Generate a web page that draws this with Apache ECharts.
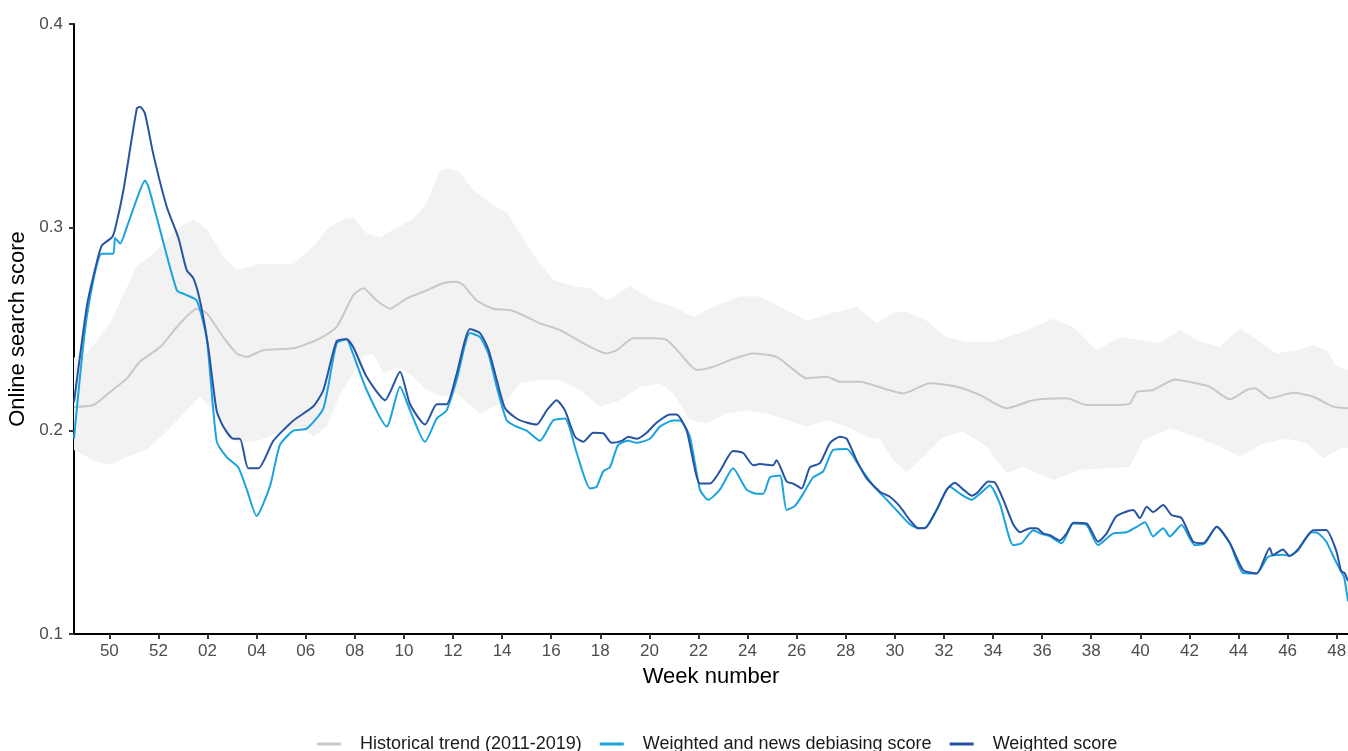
<!DOCTYPE html>
<html>
<head>
<meta charset="utf-8">
<script src="https://cdn.jsdelivr.net/npm/echarts@6/dist/echarts.min.js"></script>
<style>
  html, body { margin: 0; padding: 0; background: #fff; }
  #chart { width: 1348px; height: 751px; }
</style>
</head>
<body>
<div id="chart"></div>
<script>
// x = weeks counted from week 50 of 2019
var weekTicks = [0, 2, 4, 6, 8, 10, 12, 14, 16, 18, 20, 22, 24, 26, 28, 30, 32, 34, 36, 38, 40, 42, 44, 46, 48, 50]
var weekLabels = ['50', '52', '02', '04', '06', '08', '10', '12', '14', '16', '18', '20', '22', '24', '26', '28', '30', '32', '34', '36', '38', '40', '42', '44', '46', '48']

var historical = [
  [-1.44, 0.2116], [-0.65, 0.2126], [0.03, 0.219], [0.71, 0.2257], [1.25, 0.234], [2.06, 0.241],
  [2.75, 0.251], [3.56, 0.260], [3.97, 0.2577], [4.64, 0.246], [5.19, 0.238], [5.60, 0.2363],
  [6.27, 0.2396], [7.50, 0.2405], [8.58, 0.2454], [9.26, 0.251], [9.94, 0.2667], [10.35, 0.270],
  [10.89, 0.264], [11.43, 0.260], [12.11, 0.265], [12.93, 0.269], [13.60, 0.2725], [14.15, 0.2732],
  [14.42, 0.2716], [14.97, 0.264], [15.64, 0.260], [16.32, 0.2593], [17.00, 0.256], [17.54, 0.2528],
  [18.36, 0.2495], [19.31, 0.243], [20.26, 0.238], [20.67, 0.2396], [21.34, 0.2454], [22.16, 0.2454],
  [22.70, 0.2446], [23.25, 0.238], [23.93, 0.2298], [24.60, 0.2314], [25.28, 0.2347], [26.23, 0.238],
  [27.18, 0.2363], [27.73, 0.2314], [28.41, 0.2257], [29.22, 0.2265], [29.76, 0.2241], [30.58, 0.2241],
  [31.53, 0.2208], [32.34, 0.2183], [33.43, 0.2233], [34.52, 0.2216], [35.47, 0.2175], [36.55, 0.211],
  [37.64, 0.215], [39.00, 0.2159], [39.81, 0.2126], [40.90, 0.2126], [41.58, 0.2134], [41.85, 0.219],
  [42.52, 0.220], [43.41, 0.2252], [44.15, 0.2236], [44.83, 0.2216], [45.65, 0.2154], [46.33, 0.220],
  [46.67, 0.2208], [47.28, 0.2159], [48.23, 0.2186], [49.04, 0.2167], [49.86, 0.2118], [50.46, 0.211]
]

var bandUpper = [
  [-1.44, 0.236], [-0.92, 0.238], [0.03, 0.253], [1.12, 0.281], [1.79, 0.287], [2.75, 0.299],
  [3.42, 0.304], [3.97, 0.299], [4.64, 0.2855], [5.19, 0.279], [6.14, 0.282], [6.82, 0.282],
  [7.50, 0.282], [8.31, 0.2905], [8.86, 0.299], [9.53, 0.304], [9.94, 0.305], [10.48, 0.297],
  [11.03, 0.295], [11.57, 0.299], [12.38, 0.304], [12.93, 0.312], [13.47, 0.328], [13.88, 0.329],
  [14.28, 0.327], [14.83, 0.318], [15.51, 0.312], [16.19, 0.307], [16.73, 0.297], [17.41, 0.284],
  [18.09, 0.274], [18.90, 0.271], [19.58, 0.270], [20.26, 0.264], [21.21, 0.271], [22.16, 0.264],
  [22.97, 0.261], [23.79, 0.256], [24.60, 0.261], [25.69, 0.266], [26.50, 0.266], [27.32, 0.261],
  [28.41, 0.254], [29.49, 0.258], [30.44, 0.261], [31.26, 0.253], [31.94, 0.258], [32.48, 0.2585],
  [33.29, 0.254], [34.11, 0.246], [34.92, 0.2437], [36.01, 0.2437], [37.10, 0.248], [38.45, 0.255],
  [39.27, 0.251], [40.22, 0.2396], [41.17, 0.246], [41.98, 0.2446], [42.80, 0.243], [43.61, 0.2495],
  [44.43, 0.2437], [45.24, 0.2413], [46.06, 0.2503], [46.87, 0.2437], [47.55, 0.238], [48.37, 0.2396],
  [49.04, 0.242], [49.59, 0.2396], [50.00, 0.2314], [50.46, 0.230]
]

var bandLower = [
  [-1.44, 0.1905], [-0.65, 0.1855], [0.03, 0.1831], [0.71, 0.1872], [1.52, 0.1905], [2.34, 0.200],
  [3.15, 0.210], [3.69, 0.2167], [4.24, 0.210], [4.78, 0.197], [5.32, 0.1938], [6.14, 0.1954],
  [6.82, 0.1987], [7.77, 0.2019], [8.31, 0.197], [8.86, 0.2019], [9.40, 0.2183], [9.94, 0.2282],
  [10.35, 0.2363], [10.75, 0.238], [11.16, 0.2282], [11.84, 0.2314], [12.38, 0.2265], [12.93, 0.220],
  [13.60, 0.2167], [14.15, 0.2183], [15.10, 0.2085], [16.19, 0.215], [16.73, 0.2233], [17.54, 0.2249],
  [18.36, 0.2249], [19.17, 0.220], [19.99, 0.2118], [20.80, 0.215], [21.62, 0.2216], [22.43, 0.2233],
  [22.97, 0.2183], [23.65, 0.2052], [24.33, 0.2036], [25.15, 0.2085], [25.96, 0.2101], [26.78, 0.2085],
  [27.59, 0.2052], [28.41, 0.2019], [29.22, 0.2052], [30.04, 0.2019], [30.85, 0.197], [31.39, 0.196],
  [31.94, 0.1855], [32.48, 0.1798], [33.15, 0.1872], [33.97, 0.197], [34.79, 0.1995], [35.74, 0.1921],
  [36.55, 0.179], [37.23, 0.1822], [38.45, 0.1757], [39.54, 0.1806], [40.63, 0.1815], [41.58, 0.1822],
  [42.12, 0.1954], [43.20, 0.2011], [44.29, 0.197], [45.24, 0.1921], [46.06, 0.1872], [47.00, 0.1938],
  [47.96, 0.1962], [48.77, 0.1938], [49.45, 0.1864], [50.13, 0.1913], [50.46, 0.1913]
]

var debiased = [
  [-1.44, 0.196], [-0.92, 0.256], [-0.31, 0.287], [0.16, 0.287], [0.23, 0.2947], [0.44, 0.292],
  [0.71, 0.300], [1.18, 0.316], [1.45, 0.323], [1.59, 0.320], [2.06, 0.299], [2.75, 0.269],
  [3.08, 0.267], [3.56, 0.264], [3.97, 0.245], [4.37, 0.195], [4.78, 0.187], [5.25, 0.182],
  [5.60, 0.171], [6.00, 0.158], [6.55, 0.173], [6.95, 0.193], [7.50, 0.200], [8.04, 0.201],
  [8.72, 0.211], [9.26, 0.243], [9.67, 0.245], [9.87, 0.2396], [10.48, 0.220], [11.30, 0.202],
  [11.84, 0.2216], [12.25, 0.210], [12.86, 0.1945], [13.34, 0.206], [13.74, 0.210], [14.15, 0.225],
  [14.69, 0.248], [15.10, 0.246], [15.44, 0.238], [15.78, 0.2216], [16.19, 0.205], [16.59, 0.202],
  [17.00, 0.200], [17.54, 0.195], [18.08, 0.205], [18.56, 0.206], [19.04, 0.189], [19.58, 0.1716],
  [19.85, 0.1724], [20.12, 0.180], [20.39, 0.182], [20.73, 0.193], [21.14, 0.195], [21.48, 0.194],
  [22.02, 0.196], [22.43, 0.202], [22.97, 0.205], [23.25, 0.205], [23.65, 0.197], [24.06, 0.171],
  [24.40, 0.166], [24.87, 0.171], [25.41, 0.1815], [25.96, 0.171], [26.37, 0.169], [26.64, 0.169],
  [26.91, 0.177], [27.32, 0.178], [27.59, 0.161], [27.93, 0.163], [28.27, 0.169], [28.67, 0.177],
  [29.08, 0.180], [29.49, 0.1905], [30.04, 0.191], [30.58, 0.182], [31.12, 0.173], [31.67, 0.166],
  [32.21, 0.159], [32.61, 0.154], [32.95, 0.152], [33.29, 0.1527], [33.70, 0.161], [34.24, 0.1724],
  [34.65, 0.169], [35.13, 0.166], [35.47, 0.169], [35.87, 0.173], [36.28, 0.164], [36.82, 0.1437],
  [37.16, 0.1446], [37.64, 0.151], [37.91, 0.1495], [38.32, 0.148], [38.79, 0.1446], [39.27, 0.1544],
  [39.81, 0.1536], [40.28, 0.1437], [40.90, 0.1495], [41.44, 0.150], [41.85, 0.1527], [42.19, 0.155],
  [42.52, 0.148], [42.93, 0.152], [43.20, 0.148], [43.68, 0.1536], [44.22, 0.1437], [44.63, 0.1446],
  [45.11, 0.1527], [45.65, 0.1446], [46.19, 0.130], [46.74, 0.1298], [47.21, 0.138], [47.82, 0.139],
  [48.08, 0.1385], [48.42, 0.141], [48.98, 0.150], [49.25, 0.1495], [49.57, 0.1455], [49.91, 0.137],
  [50.18, 0.1306], [50.30, 0.128], [50.46, 0.116]
]

var weighted = [
  [-1.44, 0.214], [-0.92, 0.261], [-0.65, 0.276], [-0.31, 0.291], [0.10, 0.295], [0.23, 0.299],
  [0.57, 0.318], [1.12, 0.3585], [1.25, 0.3593], [1.45, 0.356], [1.79, 0.336], [2.34, 0.310],
  [2.81, 0.295], [3.15, 0.279], [3.42, 0.275], [3.69, 0.264], [4.03, 0.241], [4.37, 0.210],
  [4.64, 0.202], [5.05, 0.196], [5.32, 0.196], [5.66, 0.1815], [6.07, 0.1815], [6.68, 0.195],
  [7.50, 0.205], [8.31, 0.212], [8.72, 0.220], [9.26, 0.244], [9.67, 0.245], [9.94, 0.241],
  [10.48, 0.2265], [11.23, 0.215], [11.84, 0.229], [12.25, 0.213], [12.86, 0.203], [13.34, 0.213],
  [13.74, 0.213], [14.15, 0.228], [14.69, 0.250], [15.10, 0.248], [15.44, 0.240], [15.78, 0.225],
  [16.12, 0.211], [16.59, 0.206], [17.00, 0.204], [17.41, 0.203], [17.82, 0.210], [18.22, 0.215],
  [18.56, 0.210], [18.97, 0.197], [19.31, 0.1945], [19.71, 0.199], [20.12, 0.1987], [20.46, 0.194],
  [20.87, 0.195], [21.14, 0.197], [21.48, 0.196], [21.89, 0.199], [22.30, 0.204], [22.84, 0.208],
  [23.11, 0.208], [23.52, 0.200], [24.06, 0.174], [24.47, 0.174], [24.87, 0.180], [25.41, 0.190],
  [25.82, 0.189], [26.23, 0.183], [26.50, 0.1836], [27.04, 0.183], [27.18, 0.1855], [27.59, 0.175],
  [27.86, 0.174], [28.20, 0.1716], [28.54, 0.182], [28.95, 0.184], [29.36, 0.194], [29.76, 0.197],
  [30.04, 0.196], [30.44, 0.1855], [30.85, 0.1765], [31.39, 0.170], [31.80, 0.1675], [32.21, 0.1626],
  [32.61, 0.156], [32.95, 0.152], [33.22, 0.152], [33.70, 0.161], [34.11, 0.171], [34.44, 0.1744],
  [34.79, 0.171], [35.13, 0.168], [35.40, 0.170], [35.80, 0.175], [36.08, 0.1744], [36.42, 0.166],
  [36.82, 0.154], [37.10, 0.150], [37.50, 0.152], [37.78, 0.152], [38.04, 0.1495], [38.32, 0.1486],
  [38.72, 0.146], [39.00, 0.1495], [39.27, 0.1547], [39.81, 0.1544], [40.28, 0.1454], [40.63, 0.1495],
  [41.03, 0.158], [41.71, 0.161], [41.98, 0.157], [42.26, 0.1626], [42.52, 0.160], [42.93, 0.1634],
  [43.27, 0.1585], [43.68, 0.157], [44.15, 0.1454], [44.56, 0.1446], [45.11, 0.1527], [45.65, 0.1446],
  [46.19, 0.1314], [46.74, 0.1298], [47.27, 0.1423], [47.40, 0.1388], [47.81, 0.1416], [48.08, 0.1383],
  [48.42, 0.1416], [49.04, 0.151], [49.57, 0.1511], [49.98, 0.141], [50.18, 0.131], [50.32, 0.130],
  [50.46, 0.126]
]

var FONT = '"Liberation Sans", Arial, sans-serif'

var chart = echarts.init(document.getElementById('chart'))
var option = {
  animation: false,
  backgroundColor: '#ffffff',
  textStyle: { fontFamily: FONT },
  grid: { left: 74, right: 0, top: 24, bottom: 117, outerBoundsMode: 'none', containLabel: false },
  legend: {
    left: 312,
    top: 730,
    itemGap: 18,
    itemWidth: 24,
    itemHeight: 3,
    icon: 'rect',
    textStyle: { fontSize: 18, color: '#1a1a1a', padding: [0, 0, 0, 14], fontFamily: FONT },
    data: ['Historical trend (2011-2019)', 'Weighted and news debiasing score', 'Weighted score']
  },
  xAxis: {
    type: 'value',
    min: -1.44,
    max: 50.46,
    name: 'Week number',
    nameLocation: 'middle',
    nameGap: 32,
    nameTextStyle: { fontSize: 22, color: '#000', fontFamily: FONT },
    axisLine: { onZero: false, lineStyle: { color: '#000', width: 2 } },
    axisTick: { show: true, length: 5, customValues: weekTicks, lineStyle: { color: '#333', width: 2 } },
    axisLabel: {
      customValues: weekTicks,
      margin: 9,
      fontSize: 17,
      color: '#4d4d4d',
      formatter: function (v) { return weekLabels[weekTicks.indexOf(Math.round(v))] }
    },
    splitLine: { show: false }
  },
  yAxis: {
    type: 'value',
    min: 0.1,
    max: 0.4,
    interval: 0.1,
    name: 'Online search score',
    nameLocation: 'middle',
    nameGap: 42,
    nameTextStyle: { fontSize: 22, color: '#000', fontFamily: FONT },
    axisLine: { show: true, onZero: false, lineStyle: { color: '#000', width: 2 } },
    axisTick: { show: true, length: 5, lineStyle: { color: '#333', width: 2 } },
    axisLabel: {
      margin: 11,
      fontSize: 17,
      color: '#4d4d4d',
      formatter: function (v) { return v.toFixed(1) }
    },
    splitLine: { show: false }
  },
  series: [
    {
      type: 'custom',
      name: 'range',
      silent: true,
      z: 1,
      data: [bandUpper[0]],
      encode: { x: 0, y: 1 },
      renderItem: function (params, api) {
        var pts = bandUpper.map(function (p) { return api.coord(p) })
          .concat(bandLower.slice().reverse().map(function (p) { return api.coord(p) }))
        return { type: 'polygon', shape: { points: pts }, style: { fill: '#f2f2f2' } }
      }
    },
    {
      name: 'Historical trend (2011-2019)',
      type: 'line',
      z: 2,
      showSymbol: false,
      smooth: 0.2,
      data: historical,
      color: '#c8c8c8',
      lineStyle: { width: 2, color: '#c8c8c8' }
    },
    {
      name: 'Weighted and news debiasing score',
      type: 'line',
      z: 3,
      showSymbol: false,
      smooth: 0.2,
      data: debiased,
      color: '#1aa3de',
      lineStyle: { width: 2, color: '#1aa3de' }
    },
    {
      name: 'Weighted score',
      type: 'line',
      z: 4,
      showSymbol: false,
      smooth: 0.2,
      data: weighted,
      color: '#2853a3',
      lineStyle: { width: 2, color: '#2853a3' }
    }
  ]
}
chart.setOption(option)
</script>
</body>
</html>
